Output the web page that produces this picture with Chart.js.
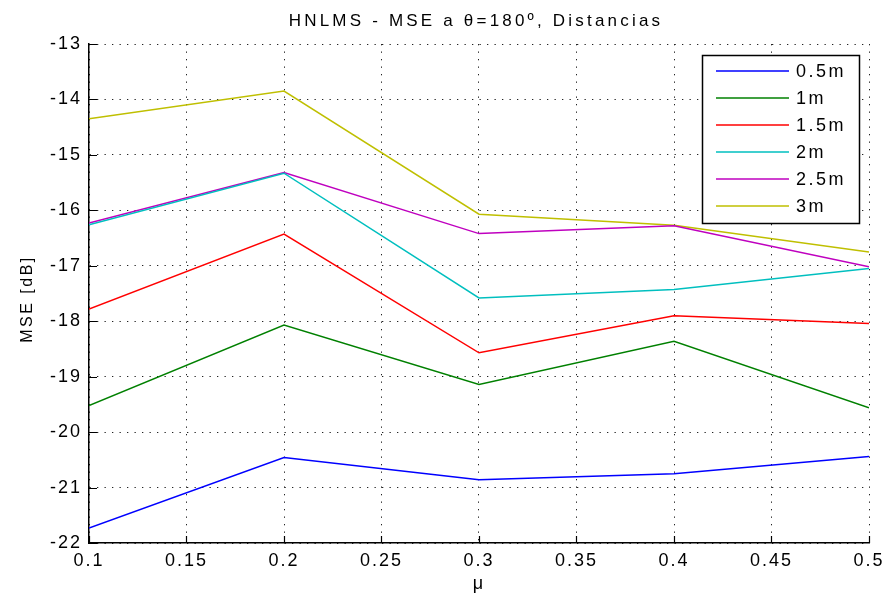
<!DOCTYPE html>
<html>
<head>
<meta charset="utf-8">
<script src="https://cdn.jsdelivr.net/npm/chart.js@4.4.1/dist/chart.umd.min.js"></script>
<style>
  html, body { margin: 0; padding: 0; background: #ffffff; }
  #wrap { width: 883px; height: 595px; }
</style>
</head>
<body>
<div id="wrap"><canvas id="c" width="883" height="595"></canvas></div>
<script>
// Step size values (mu)
const muValues = [0.1, 0.2, 0.3, 0.4, 0.5];

// MSE [dB] per distance
const mse05 = [-21.73, -20.46, -20.86, -20.75, -20.44];
const mse1  = [-19.52, -18.07, -19.14, -18.36, -19.56];
const mse15 = [-17.78, -16.43, -18.57, -17.90, -18.04];
const mse2  = [-16.26, -15.33, -17.58, -17.43, -17.05];
const mse25 = [-16.23, -15.32, -16.42, -16.28, -17.02];
const mse3  = [-14.35, -13.85, -16.07, -16.27, -16.75];

const seriesLabels = ['0.5m', '1m', '1.5m', '2m', '2.5m', '3m'];
const seriesColors = ['#0000ff', '#008000', '#ff0000', '#00bfbf', '#bf00bf', '#bfbf00'];

// Axis ticks
const xTicks = [0.1, 0.15, 0.2, 0.25, 0.3, 0.35, 0.4, 0.45, 0.5];
const yTicks = [-22, -21, -20, -19, -18, -17, -16, -15, -14, -13];

const titleText = 'HNLMS - MSE a \u03B8=180\u00BA, Distancias';
const xLabelText = '\u03BC';
const yLabelText = 'MSE [dB]';

const allSeries = [mse05, mse1, mse15, mse2, mse25, mse3];

const datasets = allSeries.map((vals, i) => ({
  label: seriesLabels[i],
  data: vals.map((v, j) => ({ x: muValues[j], y: v })),
  borderColor: seriesColors[i],
  backgroundColor: seriesColors[i],
  borderWidth: 1.5,
  pointRadius: 0,
  tension: 0,
  fill: false
}));

const FONT = '"Liberation Sans", Arial, Helvetica, sans-serif';

// Letter spacing for tick labels (wide axis font)
const spacingPlugin = {
  id: 'spacing',
  beforeDraw(chart) { chart.ctx.letterSpacing = '2px'; },
  afterDraw(chart) { chart.ctx.letterSpacing = '0px'; }
};

// Title, axis titles, inward tick marks and boxed legend
const decorPlugin = {
  id: 'decor',
  afterDraw(chart) {
    const ctx = chart.ctx;
    const area = chart.chartArea;
    const xs = chart.scales.x, ys = chart.scales.y;

    ctx.save();
    // inward tick marks
    ctx.strokeStyle = '#000';
    ctx.lineWidth = 1.2;
    ctx.setLineDash([]);
    ctx.beginPath();
    xTicks.forEach(v => {
      const px = Math.round(xs.getPixelForValue(v)) + 0.5;
      ctx.moveTo(px, area.bottom);
      ctx.lineTo(px, area.bottom - 7);
    });
    yTicks.forEach(v => {
      const py = Math.round(ys.getPixelForValue(v)) + 0.5;
      ctx.moveTo(area.left, py);
      ctx.lineTo(area.left + 8, py);
    });
    ctx.stroke();

    // title
    ctx.fillStyle = '#000';
    ctx.letterSpacing = '3.2px';
    ctx.font = '17px ' + FONT;
    ctx.textAlign = 'center';
    ctx.textBaseline = 'middle';
    ctx.fillText(titleText, 476, 21);

    // x axis title
    ctx.letterSpacing = '0px';
    ctx.font = '18px ' + FONT;
    ctx.textBaseline = 'alphabetic';
    ctx.fillText(xLabelText, 478, 589);

    // y axis title
    ctx.save();
    ctx.translate(28, 299);
    ctx.rotate(-Math.PI / 2);
    ctx.letterSpacing = '2.5px';
    ctx.font = '16px ' + FONT;
    ctx.textAlign = 'center';
    ctx.textBaseline = 'middle';
    ctx.fillText(yLabelText, 0, 0);
    ctx.restore();

    // legend box
    const bx = 702.5, by = 55.5, bw = 157, bh = 168;
    ctx.fillStyle = '#fff';
    ctx.fillRect(bx, by, bw, bh);
    ctx.strokeStyle = '#000';
    ctx.lineWidth = 1.5;
    ctx.strokeRect(bx, by, bw, bh);
    ctx.font = '18px ' + FONT;
    ctx.letterSpacing = '2.5px';
    ctx.textAlign = 'left';
    ctx.textBaseline = 'middle';
    chart.data.datasets.forEach((ds, i) => {
      const ry = 71 + i * 27;
      ctx.strokeStyle = ds.borderColor;
      ctx.lineWidth = 1.5;
      ctx.beginPath();
      ctx.moveTo(716, ry);
      ctx.lineTo(789, ry);
      ctx.stroke();
      ctx.fillStyle = '#000';
      ctx.fillText(ds.label, 796, ry + 1);
    });
    ctx.restore();
  }
};

const fmt = v => String(Number(v.toFixed(2)));

new Chart(document.getElementById('c'), {
  type: 'line',
  data: { datasets },
  options: {
    responsive: false,
    animation: false,
    devicePixelRatio: 1,
    layout: { padding: { top: 44, right: 14, bottom: 0, left: 0 } },
    plugins: {
      legend: { display: false },
      title: { display: false },
      tooltip: { enabled: false }
    },
    scales: {
      x: {
        type: 'linear',
        min: 0.1,
        max: 0.5,
        afterBuildTicks: s => { s.ticks = xTicks.map(v => ({ value: v })); },
        afterFit: s => { s.height = 52; s.paddingLeft = 0; s.paddingRight = 0; },
        ticks: {
          autoSkip: false,
          maxRotation: 0,
          padding: 7,
          color: '#000',
          font: { family: FONT, size: 18 },
          callback: v => fmt(v)
        },
        grid: {
          color: '#222',
          lineWidth: 1,
          drawTicks: false
        },
        border: { display: true, color: '#000', width: 1.5, dash: [1.3, 6.2] }
      },
      y: {
        type: 'linear',
        min: -22,
        max: -13,
        afterBuildTicks: s => { s.ticks = yTicks.map(v => ({ value: v })); },
        afterFit: s => { s.width = 89; s.paddingTop = 0; s.paddingBottom = 0; },
        ticks: {
          padding: 7,
          color: '#000',
          font: { family: FONT, size: 18 },
          callback: v => fmt(v)
        },
        grid: {
          color: '#222',
          lineWidth: 1,
          drawTicks: false
        },
        border: { display: true, color: '#000', width: 1.5, dash: [1.3, 6.2] }
      }
    }
  },
  plugins: [spacingPlugin, decorPlugin]
});
</script>
</body>
</html>
